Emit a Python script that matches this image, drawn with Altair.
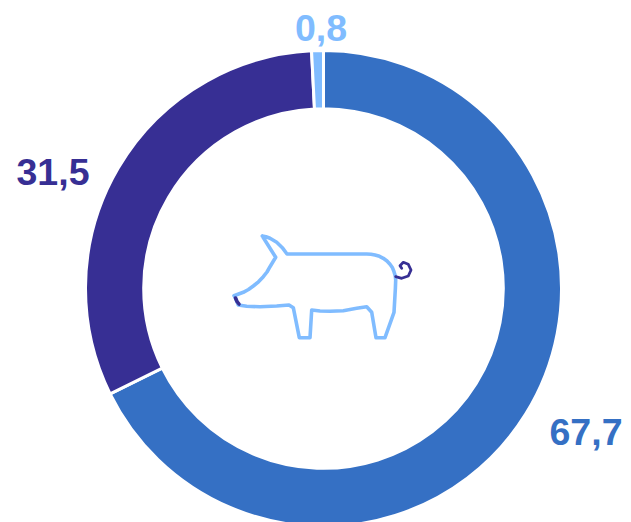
import altair as alt
import pandas as pd

# Donut shares
categories = ["a", "b", "c"]
values = [67.7, 31.5, 0.8]
colors = ["#3570c4", "#372f94", "#80bcff"]
labels = ["67,7", "31,5", "0,8"]
label_x = [578.0, 45.0, 313.0]
label_y = [437.0, 177.0, 33.0]

# Pig icon outline
pig_x = [262.3, 266, 270, 276.7, 282.3, 287, 366.7, 371, 375, 379.5, 383.3, 387, 390, 392.5, 394, 395.2, 395.7, 395.4, 395, 394, 385, 376, 371.7, 366.7,
         356.7, 343.3, 330, 320, 311.7, 310, 299.3, 293.3, 289, 276.7, 260, 246.7, 238.3, 235, 234, 243.3, 248.5, 253.3, 258.5, 263.3,
         267, 270, 273, 275.7, 270, 262.3]
pig_y = [236, 236.8, 238.3, 242.3, 247.7, 254, 254, 254.2, 255, 256.3, 258.3, 261, 264.3, 267.8, 271.7, 275.6, 280, 288, 295, 312.3, 337.7, 337.7, 312.3, 306.7,
         308.3, 310.7, 311.3, 311, 310, 337.7, 337.7, 307.7, 305, 306, 306.7, 306.3, 305, 297, 295.7, 292.3, 289.5, 286, 281.8, 276.7,
         272, 266.7, 261.8, 257.3, 248.3, 236]
tail_x = [395.7, 401.7, 408.3, 411, 408.3, 403.3, 400, 401.7]
tail_y = [276.7, 278.3, 276, 270, 264.3, 262.3, 265.7, 268.3]
nose_x = [235.5, 237, 239]
nose_y = [298, 301.5, 304]

OFFSET_X, OFFSET_Y = 8, 8
W, H = 615, 514
xs = alt.Scale(domain=[0, W], range=[0, W])
ys = alt.Scale(domain=[0, H], range=[0, H])
X = lambda f: alt.X(f"{f}:Q", scale=xs, axis=None)
Y = lambda f: alt.Y(f"{f}:Q", scale=ys, axis=None)

donut_df = pd.DataFrame({"cat": categories, "val": values, "ord": [0, 1, 2]})
donut = alt.Chart(donut_df).mark_arc(
    radius=238, innerRadius=179.8, stroke="white", strokeWidth=3
).encode(
    theta=alt.Theta("val:Q", stack=True, scale=alt.Scale(domain=[0, 100], range=[0, 6.28318530718])),
    order=alt.Order("ord:Q"),
    color=alt.Color("cat:N", scale=alt.Scale(domain=categories, range=colors), legend=None),
    x=alt.value(323.5 - OFFSET_X),
    y=alt.value(288.5 - OFFSET_Y),
)

text_df = pd.DataFrame({"cat": categories, "t": labels, "x": label_x, "y": label_y})
text = alt.Chart(text_df).mark_text(
    font="Liberation Sans", fontWeight="bold", fontSize=37.5, align="center", baseline="alphabetic"
).encode(
    x=X("x"), y=Y("y"), text="t:N",
    color=alt.Color("cat:N", scale=alt.Scale(domain=categories, range=colors), legend=None),
)


def path(xv, yv, color, width):
    df = pd.DataFrame({
        "x": [v - OFFSET_X for v in xv],
        "y": [v - OFFSET_Y for v in yv],
        "i": list(range(len(xv))),
    })
    return alt.Chart(df).mark_line(
        color=color, strokeWidth=width, strokeJoin="round", strokeCap="round", clip=False
    ).encode(x=X("x"), y=Y("y"), order="i:Q")


chart = alt.layer(
    donut,
    path(pig_x, pig_y, "#80bcff", 3.6),
    path(tail_x, tail_y, "#372f94", 2.8),
    path(nose_x, nose_y, "#372f94", 3.6),
    text,
).properties(
    width=W, height=H, padding=0, autosize=alt.AutoSizeParams(type="none")
).configure_view(stroke=None)

chart.save("out.html", embed_options={"renderer": "svg", "actions": False})
